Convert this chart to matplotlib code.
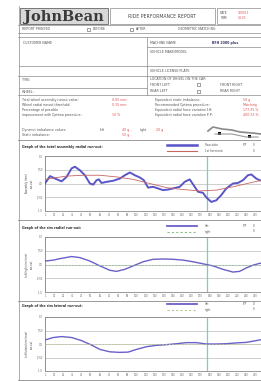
import matplotlib.pyplot as plt
from matplotlib.patches import Rectangle

plt.rcParams['font.family'] = ['DejaVu Sans']

# ---- data ----
# x in sample units, 0..270
c1_x = [0, 5.5, 10.9, 18.2, 23.6, 29.1, 32.7, 38.2, 43.6, 49.1, 52.7, 56.4, 58.9, 61.8,
        67.3, 74.5, 81.8, 87.3, 92.7, 98.2, 103.6, 108, 112.7, 118.2, 123.6, 129.1,
        134.5, 140, 147.3, 152.7, 158.2, 163.6, 167.3, 172.7, 176.4, 181.8, 187.3,
        192.7, 198.2, 205.5, 210.9, 216.4, 221.8, 225.5, 230.9, 234.5, 245, 260, 270]
c1_raw = [0, 0.27, 0.18, 0.08, 0.24, 0.55, 0.61, 0.48, 0.30, 0, -0.04, 0.12, 0.15, 0.02,
          0.06, 0.10, 0.18, 0.30, 0.40, 0.30, 0.22, 0.12, -0.15, -0.12, -0.18, -0.24,
          -0.22, -0.18, -0.12, 0.06, 0.15, -0.12, -0.30, -0.34, -0.51, -0.67, -0.61,
          -0.42, -0.18, 0, 0.02, 0.12, 0.30, 0.33, 0.18, 0.12, 0.05, 0.10, 0.0]
c1_hx = [0, 23.6, 41.8, 60, 78.2, 96.4, 114.5, 132.7, 150.9, 169.1, 187.3, 205.5,
         223.6, 234.5, 252, 270]
c1_harm = [0.15, 0.27, 0.30, 0.30, 0.24, 0.15, 0, -0.15, -0.22, -0.27, -0.24, -0.12,
           0.02, 0.10, 0.18, 0.22]

c2_x = [0, 9.1, 18.2, 29.1, 38.2, 49.1, 60, 70.9, 78.2, 87.3, 96.4, 107.3, 118.2, 129.1,
        140, 150.9, 161.8, 172.7, 183.6, 194.5, 205.5, 212.7, 220, 227.3, 234.5, 270]
c2_left = [0.125, 0.16, 0.225, 0.29, 0.25, 0.125, -0.05, -0.21, -0.25, -0.175, -0.05,
           0.1, 0.19, 0.2, 0.19, 0.16, 0.1, 0.025, -0.05, -0.175, -0.275, -0.25,
           -0.125, -0.025, 0.04, 0.2]
c2_rx = [0, 270]
c2_right = [0.0, 0.0]

c3_x = [0, 9.1, 18.2, 29.1, 40, 50.9, 60, 70.9, 81.8, 90.9, 100, 110.9, 121.8, 132.7,
        143.6, 154.5, 165.5, 176.4, 187.3, 198.2, 209.1, 220, 230.9, 234.5, 270]
c3_left = [0.15, 0.24, 0.275, 0.24, 0.125, -0.04, -0.2, -0.29, -0.31, -0.3, -0.2, -0.1,
           -0.05, -0.025, 0.01, 0.05, 0.05, 0, 0, 0.01, 0.04, 0.06, 0.125, 0.15, 0.2]
c3_rx = [0, 270]
c3_right = [0.0, 0.0]

x_labels = [1] + list(range(10, 231, 10))
y_ticks = [-1, -0.5, 0, 0.5, 1]
y_labels = ['-1.0', '-0.50', '0.0', '0.50', '1.0']
marker_x = 177

W, H = 261, 381
fig = plt.figure(figsize=(W / 100, H / 100), dpi=100)
bg = fig.add_axes([0, 0, 1, 1])
bg.set_xlim(0, W)
bg.set_ylim(H, 0)
bg.axis('off')

grey = '#8a8a8a'
fs = 2.3


def hline(y, x0=18, x1=W, lw=0.5, c=grey):
    bg.plot([x0, x1], [y, y], color=c, lw=lw)


def vline(x, y0, y1, lw=0.5, c=grey):
    bg.plot([x, x], [y0, y1], color=c, lw=lw)


def txt(x, y, s, c='#555555', size=fs, **kw):
    bg.text(x, y, s, color=c, fontsize=size, va='center', **kw)


def box(x, y, s=3):
    bg.add_patch(Rectangle((x, y - s / 2), s, s, fill=False, ec='#555555', lw=0.4))


# page outline
vline(19, 6, H)
# header
bg.add_patch(Rectangle((20, 8), 88, 16, fc='#d8d8d8', ec='#666666', lw=0.6))
bg.text(64, 16.5, 'JohnBean', fontsize=10.5, fontweight='bold', family='DejaVu Serif',
        ha='center', va='center', color='#3a3a3a')
bg.add_patch(Rectangle((110, 8), 105, 16, fc='white', ec=grey, lw=0.5))
txt(162, 16, 'RIDE PERFORMANCE REPORT', size=3.3, ha='center', c='#444444')
bg.add_patch(Rectangle((217, 8), 50, 16, fc='white', ec=grey, lw=0.5))
txt(220, 12.5, 'DATE', size=2.2)
txt(220, 18, 'TIME', size=2.2)
txt(238, 12.5, '1/09/11', size=2.2, c='#e05050')
txt(238, 18, '14:33', size=2.2, c='#e05050')

hline(25)
txt(22, 29, 'REPORT PRINTED')
box(87, 29)
txt(93, 29, 'BEFORE')
box(130, 29)
txt(136, 29, 'AFTER')
txt(178, 29, 'GEOMETRIC MATCHING')
hline(33)

# customer / vehicle block
hline(37)
vline(147, 37, 95)
txt(23, 43, 'CUSTOMER NAME')
txt(150, 43, 'MACHINE NAME')
txt(212, 43, 'BFH 2000 plus', c='#333366', fontweight='bold')
hline(47, 147)
txt(150, 52, 'VEHICLE MAKE/MODEL')
hline(66, 147)
hline(66, 19, 147)
txt(150, 71.5, 'VEHICLE LICENSE PLATE')
hline(76)
txt(22, 80, 'TYRE:')
txt(150, 79, 'LOCATION OF WHEEL ON THE CAR:')
txt(150, 84.5, 'FRONT LEFT')
box(197, 84.5)
txt(220, 84.5, 'FRONT RIGHT')
hline(88, 19, 147)
txt(22, 92, 'WHEEL:')
txt(150, 91, 'REAR LEFT')
box(197, 91)
txt(220, 91, 'REAR RIGHT')
hline(95)

# values block
left_rows = [('Total wheel assembly runout value:', '0.05 mm'),
             ('Wheel radial runout threshold:', '0.15 mm'),
             ('Percentage of possible', ''),
             ('improvement with Optima procedure:', '10 %')]
right_rows = [('Equivalent static imbalance:', '50 g'),
              ('Recommended Optima procedure:', 'Matching'),
              ('Equivalent radial force variation 1H:', '177.35 %'),
              ('Equivalent radial force variation P-P:', '400.35 %')]
for i, (a, b) in enumerate(left_rows):
    y = 100 + i * 5
    txt(22, y, a)
    txt(112, y, b, c='#e05050')
for i, (a, b) in enumerate(right_rows):
    y = 100 + i * 5
    txt(155, y, a)
    txt(243, y, b, c='#e05050')
txt(22, 130, 'Dynamic imbalance values:')
txt(100, 130, 'left')
txt(122, 130, '40 g', c='#e05050')
txt(140, 130, 'right')
txt(156, 130, '20 g', c='#e05050')
txt(22, 135, 'Static imbalance:')
txt(122, 135, '50 g', c='#e05050')

# car sketch
bg.plot([208, 213, 222, 232, 240, 252, 261], [131, 127, 129, 130, 132, 133, 134], color='#888888', lw=1.2)
bg.plot([215, 232, 246, 258], [134, 134, 137, 137], color='#999999', lw=0.8)
bg.add_patch(Rectangle((218, 131.5), 3, 3, fc='black'))
bg.add_patch(Rectangle((248, 134.5), 3, 3, fc='black'))
hline(140, lw=0.6)

# charts
charts = [
    dict(top=156, bot=211, title='Graph of the total assembly radial run-out:',
         ylab='Assembly (mm)\nrun-out', ty=147,
         series=[(c1_x, c1_raw, '#5a55c8', 1.4, '-', 'Raw data'),
                 (c1_hx, c1_harm, '#c86464', 0.6, '-', '1st harmonic')]),
    dict(top=237, bot=292, title='Graph of the rim radial run-out:',
         ylab='Left/right rim (mm)\nrun-out', ty=228,
         series=[(c2_x, c2_left, '#6a60c8', 1.0, '-', 'left'),
                 (c2_rx, c2_right, '#8abf8a', 0.6, (0, (2, 2)), 'right')]),
    dict(top=317, bot=371, title='Graph of the rim lateral run-out:',
         ylab='Left lateral rim (mm)\nrun-out', ty=306,
         series=[(c3_x, c3_left, '#6a60c8', 1.0, '-', 'left'),
                 (c3_rx, c3_right, '#b8c890', 0.6, (0, (2, 2)), 'right')]),
]

for ch in charts:
    ty = ch['ty']
    txt(22, ty, ch['title'], c='#333333', fontweight='bold', size=2.4)
    for k, s in enumerate(ch['series']):
        ly = ty - 2 + k * 5.5
        bg.plot([167, 197], [ly, ly], color=s[2], lw=s[3] * 1.3, ls=s[4])
        txt(205, ly, s[5], size=2.0)
    txt(243, ty - 2, 'P-P', size=2.0)
    txt(253, ty - 2, '0.', size=2.0)
    txt(253, ty + 3.5, '0.', size=2.0)
    hline(ch['bot'] + 9, lw=0.6)

    ax = fig.add_axes([45 / W, 1 - ch['bot'] / H, (292 - 45) / W, (ch['bot'] - ch['top']) / H])
    for s in ch['series']:
        ax.plot(s[0], s[1], color=s[2], lw=s[3], ls=s[4], zorder=3)
    ax.axvline(marker_x, color='#7cc8d8', lw=0.9, zorder=2)
    ax.set_xlim(0, 270)
    ax.set_ylim(-1, 1)
    ax.set_xticks(x_labels)
    ax.set_xticklabels([str(v) for v in x_labels], fontsize=1.8, color='#666666')
    ax.set_xticks(range(0, 271, 30), minor=True)
    ax.set_yticks(y_ticks)
    ax.set_yticklabels(y_labels, fontsize=1.8, color='#666666')
    ax.tick_params(length=0, pad=1.5)
    ax.tick_params(which='minor', length=0)
    ax.grid(which='minor', axis='x', color='#bbbbbb', lw=0.5)
    ax.grid(which='major', axis='y', color='#bbbbbb', lw=0.5)
    for sp in ax.spines.values():
        sp.set_color('#888888')
        sp.set_linewidth(0.6)
    ax.set_ylabel(ch['ylab'], fontsize=1.8, color='#444444', labelpad=2)

fig.savefig('out.png', dpi=100)
